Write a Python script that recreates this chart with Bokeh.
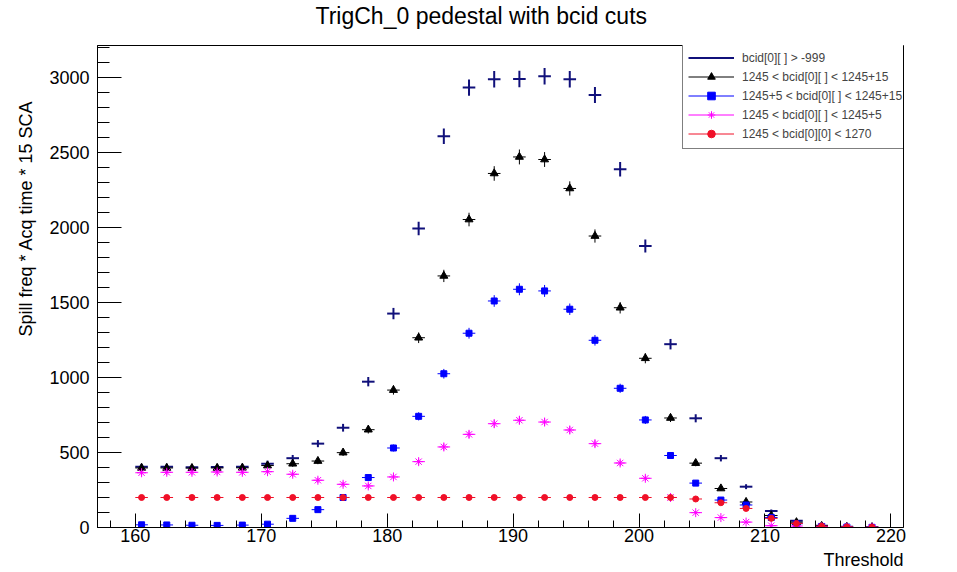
import numpy as np
from bokeh.plotting import figure
from bokeh.models import Range1d, FixedTicker, Legend, LegendItem, ColumnDataSource, Title, Label
from bokeh.embed import file_html
from bokeh.resources import INLINE

FONT = "Liberation Sans"

# ---- data ----
threshold = [160.5, 162.5, 164.5, 166.5, 168.5, 170.5, 172.5, 174.5, 176.5, 178.5,
             180.5, 182.5, 184.5, 186.5, 188.5, 190.5, 192.5, 194.5, 196.5, 198.5,
             200.5, 202.5, 204.5, 206.5, 208.5, 210.5, 212.5, 214.5, 216.5, 218.5]

bcid_all = [405, 405, 402, 403, 405, 425, 462, 559, 665, 972,
            1426, 1993, 2608, 2933, 2988, 2990, 3008, 2988, 2883, 2388,
            1877, 1222, 728, 462, 272, 110, 45, 12, 5, 2]

bcid_1245_1260 = [397, 397, 396, 397, 398, 413, 425, 443, 499, 652,
                  916, 1265, 1677, 2053, 2360, 2470, 2453, 2260, 1943, 1465,
                  1128, 730, 429, 260, 170, 80, 35, 10, 4, 2]

bcid_1250_1260 = [18, 17, 15, 14, 16, 22, 61, 119, 200, 333,
                  530, 741, 1025, 1295, 1510, 1588, 1577, 1455, 1248, 928,
                  717, 480, 296, 183, 150, 67, 25, 7, 3, 1]

bcid_1245_1250 = [365, 368, 368, 370, 368, 372, 355, 315, 288, 277,
                  337, 439, 537, 621, 692, 715, 703, 650, 559, 430,
                  328, 200, 99, 66, 36, 12, 10, 4, 2, 1]

bcid00_1245_1270 = [200, 200, 200, 200, 200, 200, 200, 200, 200, 200,
                    200, 200, 200, 200, 200, 200, 200, 200, 200, 200,
                    200, 200, 190, 165, 127, 61, 27, 9, 4, 2]

labels = ["bcid[0][ ] > -999",
          "1245 < bcid[0][ ] < 1245+15",
          "1245+5 < bcid[0][ ] < 1245+15",
          "1245 < bcid[0][ ] < 1245+5",
          "1245 < bcid[0][0] < 1270"]

x_major = [160, 170, 180, 190, 200, 210, 220]
x_minor = list(range(158, 222, 2))
y_major = [0, 500, 1000, 1500, 2000, 2500, 3000]
y_minor = list(range(0, 3300, 100))

p = figure(width=957, height=572, output_backend="svg", toolbar_location=None,
           x_range=Range1d(157, 221), y_range=Range1d(0, 3213),
           min_border_left=97, min_border_right=54, min_border_top=45, min_border_bottom=45)
p.title.visible = False
p.xgrid.visible = False
p.ygrid.visible = False
p.outline_line_color = "black"
p.outline_line_width = 1
p.outline_line_alpha = 1
p.background_fill_color = "white"
p.border_fill_color = "white"

xa = p.xaxis[0]
xa.ticker = FixedTicker(ticks=x_major, minor_ticks=x_minor)
xa.major_tick_in = 14
xa.major_tick_out = 0
xa.minor_tick_in = 7
xa.minor_tick_out = 0
xa.major_label_standoff = 1
xa.major_label_text_font = FONT
xa.major_label_text_font_size = "18px"
xa.major_label_text_color = "black"
xa.axis_line_color = "black"
xa.major_tick_line_color = "black"
xa.minor_tick_line_color = "black"

ya = p.yaxis[0]
ya.ticker = FixedTicker(ticks=y_major, minor_ticks=y_minor)
ya.major_tick_in = 24
ya.major_tick_out = 0
ya.minor_tick_in = 12
ya.minor_tick_out = 0
ya.major_label_standoff = 8
ya.major_label_text_font = FONT
ya.major_label_text_font_size = "18px"
ya.major_label_text_color = "black"
ya.axis_line_color = "black"
ya.major_tick_line_color = "black"
ya.minor_tick_line_color = "black"


def add_series(values, color, lw, marker=None, size=6):
    x = np.array(threshold, dtype=float)
    y = np.array(values, dtype=float)
    e = np.sqrt(y)
    src = ColumnDataSource(dict(x=x, y=y, x0=x - 0.5, x1=x + 0.5, y0=y - e, y1=y + e))
    h = p.segment(x0="x0", y0="y", x1="x1", y1="y", source=src, line_color=color, line_width=lw)
    v = p.segment(x0="x", y0="y0", x1="x", y1="y1", source=src, line_color=color, line_width=lw)
    rs = [h]
    if marker is not None:
        s = p.scatter("x", "y", source=src, marker=marker, size=size,
                      fill_color=color, line_color=color, line_width=1)
        rs.append(s)
    return rs


r1 = add_series(bcid_all, "#10107a", 2)
r2 = add_series(bcid_1245_1260, "#000000", 1, "triangle", 8)
r3 = add_series(bcid_1250_1260, "#0000ff", 1, "square", 6)
r4 = add_series(bcid_1245_1250, "#ff00ff", 1, "asterisk", 9)
r5 = add_series(bcid00_1245_1270, "#f01028", 1, "circle", 6)

legend = Legend(items=[LegendItem(label=labels[0], renderers=r1),
                       LegendItem(label=labels[1], renderers=r2),
                       LegendItem(label=labels[2], renderers=r3),
                       LegendItem(label=labels[3], renderers=r4),
                       LegendItem(label=labels[4], renderers=r5)],
                location=(585, 378), orientation="vertical",
                label_text_font=FONT, label_text_font_size="12px",
                label_height=19, glyph_height=19, glyph_width=46,
                label_standoff=8, spacing=0, padding=5, margin=0,
                border_line_color="black", border_line_width=1,
                background_fill_color="white", background_fill_alpha=1)
p.add_layout(legend)

# main title as a label in the top panel
p.add_layout(Label(x=218, y=30, x_units="screen", y_units="screen",
                   text="TrigCh_0 pedestal with bcid cuts", text_align="left",
                   text_baseline="alphabetic", text_font=FONT, text_font_size="23px",
                   text_color="black"), "above")
p.add_layout(Title(text="Spill freq * Acq time * 15 SCA", align="right", offset=55,
                   vertical_align="bottom", standoff=22, text_font=FONT,
                   text_font_size="18px", text_font_style="normal",
                   text_color="black"), "left")
p.add_layout(Label(x=806, y=5, x_units="screen", y_units="screen",
                   text="Threshold", text_align="right",
                   text_baseline="alphabetic", text_font=FONT, text_font_size="18px",
                   text_color="black"), "below")

open("out.html", "w").write(file_html(p, INLINE))
